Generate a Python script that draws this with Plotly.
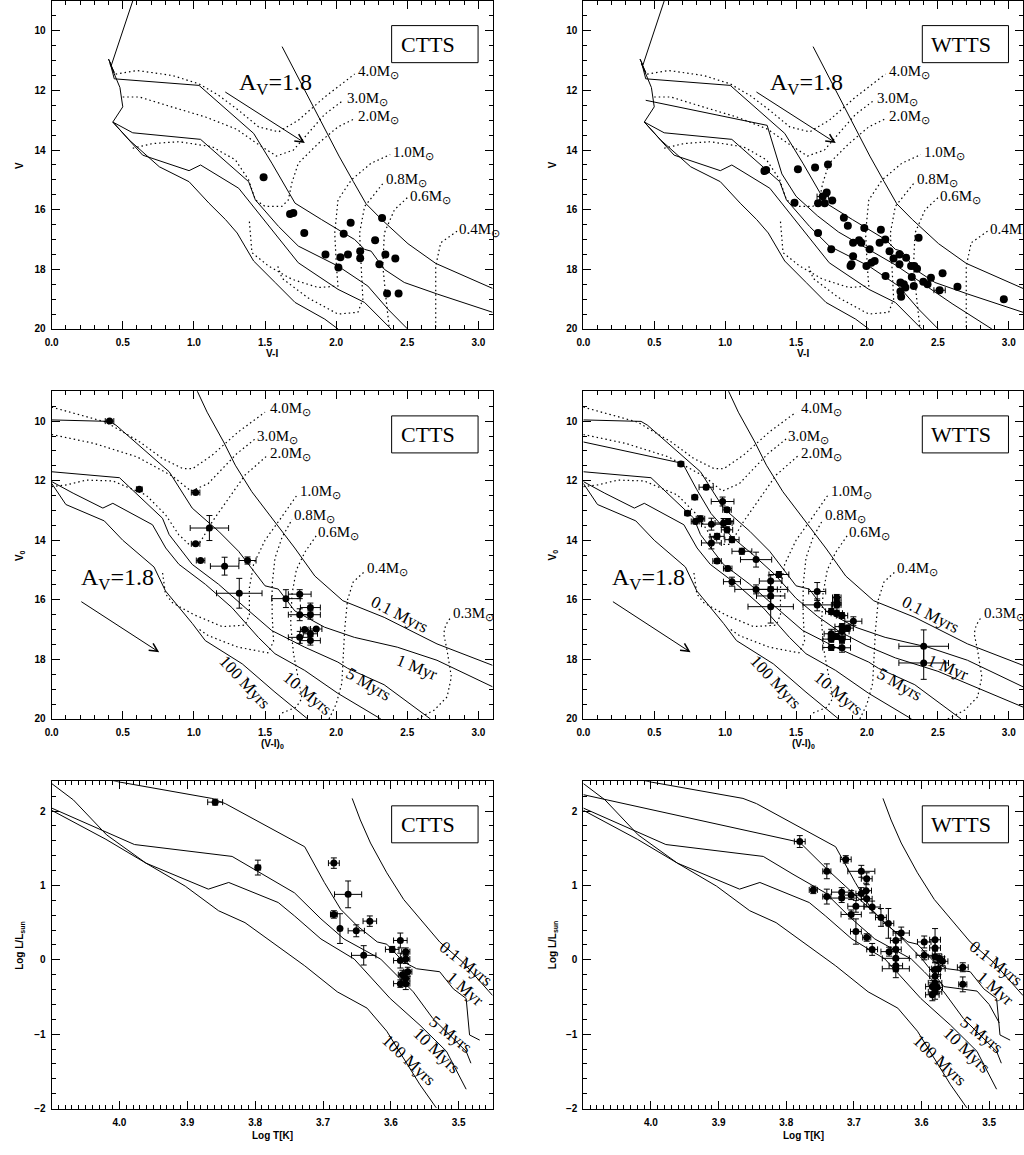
import plotly.graph_objects as go

# ===================== DATA =====================
# ---- Top row: observed V vs V-I, model isochrones (solid) ----
iso_top_hot_x = [0.57, 0.42, 0.40, 0.44, 0.41]
iso_top_hot_y = [9.0, 11.15, 10.95, 11.40, 11.10]
iso_top_01_x = [1.62, 1.83, 1.905, 2.02, 2.12, 2.21, 2.32, 2.505, 2.70, 3.10]
iso_top_01_y = [10.53, 12.47, 13.17, 14.2, 15.05, 15.8, 16.33, 17.14, 17.8, 18.64]
iso_top_1_x = [0.41, 0.44, 1.036, 1.42, 1.548, 1.711, 1.897, 2.13, 2.20, 2.246, 2.339, 2.479, 2.712, 3.10]
iso_top_1_y = [11.05, 11.61, 11.83, 13.44, 14.44, 15.78, 16.33, 17.0, 17.33, 17.39, 18.0, 18.44, 18.83, 19.44]
iso_top_5_x = [0.41, 0.48, 0.50, 0.43, 0.57, 1.047, 1.385, 1.432, 1.595, 1.734, 2.013, 2.223, 2.363, 2.502]
iso_top_5_y = [11.1, 11.9, 12.55, 13.06, 13.42, 13.64, 15.06, 15.67, 16.56, 17.22, 17.89, 18.56, 19.33, 20.0]
iso_top_10_x = [0.43, 0.64, 0.966, 1.047, 1.315, 1.455, 1.60, 1.734, 2.013, 2.20, 2.386]
iso_top_10_y = [13.06, 14.17, 14.69, 14.50, 15.28, 16.11, 17.0, 17.78, 18.67, 19.11, 20.0]
iso_top_100_x = [0.43, 0.547, 0.757, 0.966, 1.106, 1.222, 1.304, 1.42, 1.571, 1.711, 1.92, 2.013]
iso_top_100_y = [13.06, 13.67, 14.56, 15.06, 15.78, 16.33, 16.78, 17.72, 18.44, 19.11, 19.67, 20.0]
iso_top_extra_x = [0.44, 1.296, 1.40, 1.50, 1.65, 1.80, 2.0, 2.2, 2.4, 2.6, 2.88]
iso_top_extra_y = [12.33, 13.17, 14.8, 15.55, 16.2, 16.75, 17.3, 17.85, 18.5, 19.15, 20.0]

# ---- Top row: mass tracks (dotted) ----
trk_top_40_x = [0.45, 0.6, 0.85, 1.036, 1.176, 1.315, 1.455, 1.595, 1.734, 1.92, 2.13]
trk_top_40_y = [11.45, 11.33, 11.5, 11.78, 12.17, 12.67, 13.22, 13.39, 13.0, 12.22, 11.45]
trk_top_30_x = [0.5, 0.617, 0.85, 1.082, 1.30, 1.45, 1.58, 1.70, 1.80, 1.92, 2.05]
trk_top_30_y = [12.22, 12.22, 12.56, 12.89, 13.3, 13.8, 14.2, 14.0, 13.45, 12.8, 12.33]
trk_top_20_x = [0.57, 0.71, 0.896, 1.129, 1.292, 1.385, 1.432, 1.501, 1.618, 1.664, 1.688, 1.734, 1.874, 2.013, 2.13]
trk_top_20_y = [13.94, 13.78, 13.72, 13.89, 14.33, 15.0, 15.67, 15.89, 15.89, 15.67, 15.11, 14.44, 13.78, 13.22, 12.95]
trk_top_10_x = [1.39, 1.397, 1.408, 1.525, 1.688, 1.874, 2.013, 2.002, 1.99, 2.013, 2.107, 2.246, 2.38]
trk_top_10_y = [16.4, 16.78, 17.44, 17.89, 18.33, 18.61, 18.56, 17.89, 16.78, 15.67, 15.0, 14.44, 14.15]
trk_top_08_x = [1.59, 1.62, 1.8, 2.013, 2.153, 2.188, 2.176, 2.165, 2.2, 2.339]
trk_top_08_y = [17.9, 18.3, 18.95, 19.5, 19.44, 19.0, 17.89, 16.78, 15.89, 15.06]
trk_top_06_x = [2.5, 2.41, 2.339, 2.328, 2.351, 2.374]
trk_top_06_y = [15.6, 16.0, 16.78, 17.89, 19.0, 20.0]
trk_top_04_x = [2.85, 2.735, 2.7, 2.7, 2.7]
trk_top_04_y = [16.72, 17.11, 17.89, 19.0, 20.0]

# ---- Middle row: dereddened V0 vs (V-I)0 isochrones ----
iso_mid_01_x = [1.0, 1.023, 1.093, 1.209, 1.291, 1.407, 1.547, 1.709, 1.85, 2.047, 2.338, 2.709, 3.1]
iso_mid_01_y = [8.75, 9.0, 9.7, 10.7, 11.48, 12.37, 13.26, 14.26, 15.2, 16.03, 16.59, 17.48, 18.2]
iso_mid_1_x = [0, 0.407, 0.453, 0.826, 0.988, 1.174, 1.314, 1.5, 1.593, 1.709, 1.919, 2.128, 2.43, 2.709, 3.1]
iso_mid_1_y = [9.96, 10.01, 10.14, 11.7, 12.92, 13.7, 14.37, 15.53, 15.64, 16.37, 16.92, 17.26, 17.59, 18.03, 18.92]
iso_mid_5_x = [0, 0.477, 0.779, 0.826, 0.988, 1.174, 1.36, 1.547, 1.779, 2.012, 2.081, 2.337, 2.663]
iso_mid_5_y = [11.7, 11.9, 13.26, 13.81, 14.81, 15.48, 16.26, 17.03, 17.59, 18.09, 18.3, 18.85, 20.0]
iso_mid_10_x = [0, 0.151, 0.36, 0.43, 0.709, 0.802, 0.895, 1.081, 1.267, 1.453, 1.57, 1.779, 2.012, 2.314]
iso_mid_10_y = [12.03, 12.42, 12.92, 12.76, 13.48, 14.26, 14.81, 15.48, 16.26, 17.26, 17.81, 18.37, 19.14, 20.0]
iso_mid_100_x = [0, 0.1, 0.37, 0.5, 0.72, 0.8, 0.99, 1.08, 1.34, 1.57, 1.8]
iso_mid_100_y = [12.09, 12.8, 13.35, 14.0, 14.9, 15.7, 16.8, 17.37, 18.15, 19.1, 20.0]
iso_mid_extra_x = [0, 0.7, 0.8, 0.9, 1.05, 1.2, 1.35, 1.5, 1.65, 1.8, 2.0, 2.2, 2.5, 2.8, 3.1]
iso_mid_extra_y = [10.7, 11.42, 12.3, 13.1, 13.9, 14.5, 15.15, 15.95, 16.55, 17.05, 17.55, 17.95, 18.4, 19.0, 19.6]

# ---- Middle row: mass tracks (dotted) ----
trk_mid_40_x = [0, 0.38, 0.62, 0.78, 0.92, 0.99, 1.13, 1.31, 1.5]
trk_mid_40_y = [9.53, 10.03, 10.7, 11.26, 11.59, 11.6, 11.14, 10.37, 9.7]
trk_mid_30_x = [0, 0.3, 0.6, 0.85, 0.98, 1.1, 1.2, 1.3, 1.43]
trk_mid_30_y = [10.45, 10.75, 11.2, 11.85, 12.35, 12.1, 11.6, 11.1, 10.6]
trk_mid_20_x = [0, 0.105, 0.244, 0.43, 0.663, 0.8, 0.893, 0.966, 1.035, 1.13, 1.245, 1.36, 1.52]
trk_mid_20_y = [12.2, 12.14, 11.98, 12.01, 12.48, 13.14, 13.81, 14.14, 14.14, 13.37, 12.59, 11.81, 11.14]
trk_mid_10_x = [0.78, 0.80, 0.85, 1.0, 1.2, 1.36, 1.39, 1.39, 1.42, 1.5, 1.62, 1.73]
trk_mid_10_y = [15.1, 15.8, 16.1, 16.5, 16.9, 16.85, 16.5, 15.6, 14.8, 14.0, 13.2, 12.45]
trk_mid_08_x = [1.04, 1.1, 1.31, 1.52, 1.56, 1.55, 1.55, 1.57, 1.62, 1.69]
trk_mid_08_y = [17.0, 17.2, 17.59, 17.78, 17.4, 16.5, 15.5, 14.6, 13.9, 13.3]
trk_mid_06_x = [1.62, 1.72, 1.76, 1.74, 1.70, 1.68, 1.69, 1.72, 1.78, 1.86]
trk_mid_06_y = [19.8, 19.6, 19.3, 18.8, 17.8, 16.8, 15.8, 15.0, 14.4, 13.85]
trk_mid_04_x = [1.95, 2.0, 2.04, 2.05, 2.06, 2.08, 2.12, 2.2]
trk_mid_04_y = [20.0, 19.5, 18.8, 18.0, 17.0, 16.0, 15.4, 15.05]
trk_mid_03_x = [2.57, 2.69, 2.78, 2.81, 2.78, 2.756, 2.77, 2.81]
trk_mid_03_y = [20.0, 19.7, 19.26, 18.59, 17.7, 17.14, 16.85, 16.55]

# ---- Bottom row: HR diagram isochrones (log T, log L/Lsun) ----
hr_01_T = [3.657, 3.645, 3.63, 3.606, 3.581, 3.557, 3.528, 3.494, 3.45]
hr_01_L = [2.17, 1.88, 1.57, 1.17, 0.81, 0.55, 0.24, -0.03, -0.48]
hr_1_T = [4.03, 4.0, 3.864, 3.844, 3.727, 3.698, 3.674, 3.65, 3.62, 3.606, 3.581, 3.562, 3.528, 3.508, 3.489, 3.484, 3.469]
hr_1_L = [2.45, 2.39, 2.17, 2.1, 1.52, 1.04, 0.68, 0.46, 0.24, 0.21, -0.03, -0.12, -0.16, -0.39, -0.52, -1.01, -1.08]
hr_5_T = [4.1, 3.978, 3.834, 3.79, 3.742, 3.703, 3.669, 3.615, 3.596, 3.567, 3.538, 3.489, 3.482]
hr_5_L = [2.04, 1.55, 1.39, 1.15, 0.9, 0.55, 0.28, 0.01, -0.16, -0.43, -0.79, -1.23, -1.39]
hr_10_T = [4.1, 4.02, 3.961, 3.903, 3.869, 3.839, 3.766, 3.742, 3.703, 3.654, 3.601, 3.557, 3.518, 3.489]
hr_10_L = [2.01, 1.62, 1.3, 1.08, 0.95, 1.04, 0.77, 0.59, 0.28, 0.01, -0.52, -0.88, -1.23, -1.74]
hr_100_T = [4.1, 4.068, 4.019, 3.961, 3.903, 3.854, 3.815, 3.727, 3.679, 3.635, 3.606, 3.581, 3.557, 3.533]
hr_100_L = [2.37, 2.15, 1.68, 1.3, 0.99, 0.66, 0.5, -0.08, -0.43, -0.65, -0.96, -1.32, -1.68, -1.99]
hr_extra_T = [4.1, 3.78, 3.74, 3.70, 3.66, 3.63, 3.60, 3.567, 3.54, 3.518, 3.50, 3.485]
hr_extra_L = [2.22, 1.58, 1.22, 0.88, 0.55, 0.3, 0.02, -0.36, -0.39, -0.42, -0.6, -0.85]

# ---- Stars ----
ctts_top_vi = [1.49, 1.676, 1.699, 1.776, 2.053, 2.102, 1.925, 2.03, 2.083, 2.016, 2.169, 2.169, 2.274, 2.323,
               2.346, 2.304, 2.416, 2.358, 2.439]
ctts_top_v = [14.91, 16.14, 16.11, 16.78, 16.81, 16.44, 17.5, 17.59, 17.5, 17.94, 17.39, 17.63, 17.02, 16.28,
              17.5, 17.83, 17.64, 18.81, 18.81]
wtts_top_vi = [1.277, 1.289, 1.513, 1.634, 1.725, 1.489, 1.655, 1.688, 1.716, 1.702, 1.755, 1.655, 1.837, 1.865,
               1.944, 1.96, 1.981, 1.902, 2.019, 2.098, 2.089, 2.129, 1.748, 1.902, 1.891, 1.884, 1.996, 2.031,
               2.054, 2.159, 2.187, 2.229, 2.229, 2.276, 2.311, 2.334, 2.353, 2.131, 2.316, 2.364, 2.236, 2.26,
               2.271, 2.236, 2.241, 2.33, 2.397, 2.427, 2.451, 2.533, 2.512, 2.638, 2.965]
wtts_top_v = [14.7, 14.67, 14.64, 14.58, 14.48, 15.77, 15.78, 15.56, 15.42, 15.78, 15.69, 16.78, 16.27, 16.54,
              17.02, 17.11, 16.61, 17.11, 17.33, 16.67, 17.11, 17.0, 17.33, 17.56, 17.83, 17.89, 17.89, 17.78,
              17.72, 17.39, 17.64, 17.5, 17.83, 17.61, 17.89, 17.89, 17.98, 18.22, 18.26, 16.94, 18.44, 18.5,
              18.61, 18.74, 18.92, 18.56, 18.42, 18.5, 18.28, 18.13, 18.7, 18.58, 19.0]
wtts_top_vi_err = [0] * 7 + [0.04] + [0] * 42 + [0.04, 0, 0]

ctts_mid_vi = [0.407, 0.616, 1.012, 1.109, 1.012, 1.047, 1.216, 1.377, 1.319, 1.647, 1.744, 1.819, 1.744, 1.819,
               1.779, 1.860, 1.819, 1.744, 1.819]
ctts_mid_v = [10.0, 12.29, 12.40, 13.59, 14.12, 14.68, 14.87, 14.68, 15.78, 15.96, 15.81, 16.26, 16.50, 16.50,
              17.00, 16.98, 17.14, 17.26, 17.37]
ctts_mid_vi_err = [0.03, 0.02, 0.03, 0.135, 0.03, 0.03, 0.10, 0.06, 0.16, 0.10, 0.08, 0.07, 0.08, 0.07, 0.03,
                   0.04, 0.05, 0.08, 0.07]
ctts_mid_v_err = [0.05, 0.04, 0.05, 0.42, 0.05, 0.05, 0.30, 0.12, 0.50, 0.30, 0.15, 0.15, 0.20, 0.15, 0.05, 0.05,
                  0.10, 0.20, 0.15]

wtts_mid_vi = [0.688, 0.735, 0.866, 0.786, 0.982, 1.013, 0.826, 0.791, 0.903, 0.989, 1.02, 1.013, 0.943, 0.903,
               1.048, 1.118, 1.218, 0.943, 1.018, 1.048, 1.379, 1.321, 1.218, 1.321, 1.321, 1.321, 1.649, 1.649,
               1.787, 1.787, 1.787, 1.748, 1.787, 1.824, 1.904, 1.864, 1.824, 1.824, 1.748, 1.787, 1.748, 1.824,
               1.824, 1.748, 2.4, 2.4]
wtts_mid_v = [11.44, 13.09, 12.22, 12.56, 12.70, 12.98, 13.28, 13.37, 13.46, 13.42, 13.37, 13.65, 13.87, 14.09,
              13.98, 14.37, 14.65, 14.70, 14.95, 15.39, 15.15, 15.37, 15.65, 15.65, 15.87, 16.23, 15.72, 16.17,
              15.92, 16.10, 16.17, 16.39, 16.45, 16.53, 16.72, 16.95, 16.90, 17.06, 17.14, 17.23, 17.32, 17.33,
              17.61, 17.60, 17.56, 18.12]
wtts_mid_vi_err = [0.02, 0.02, 0.05, 0.02, 0.08, 0.03, 0.03, 0.03, 0.07, 0.06, 0.04, 0.04, 0.05, 0.07, 0.05, 0.07,
                   0.11, 0.03, 0.03, 0.06, 0.07, 0.08, 0.15, 0.12, 0.1, 0.16, 0.06, 0.1, 0.03, 0.03, 0.03, 0.04,
                   0.04, 0.04, 0.06, 0.04, 0.05, 0.05, 0.05, 0.06, 0.06, 0.06, 0.06, 0.06, 0.175, 0.175]
wtts_mid_v_err = [0.05, 0.05, 0.08, 0.05, 0.15, 0.08, 0.1, 0.08, 0.2, 0.15, 0.1, 0.1, 0.1, 0.2, 0.1, 0.1, 0.25,
                  0.08, 0.08, 0.15, 0.1, 0.2, 0.15, 0.3, 0.3, 0.55, 0.3, 0.2, 0.1, 0.1, 0.1, 0.1, 0.1, 0.1, 0.15,
                  0.1, 0.1, 0.15, 0.15, 0.1, 0.1, 0.1, 0.15, 0.1, 0.55, 0.55]

ctts_logT = [3.859, 3.796, 3.684, 3.663, 3.684, 3.675, 3.651, 3.631, 3.64, 3.598, 3.586, 3.586, 3.578, 3.578,
             3.575, 3.583, 3.578, 3.586, 3.578]
ctts_logL = [2.12, 1.24, 1.30, 0.88, 0.61, 0.42, 0.39, 0.52, 0.06, 0.14, 0.26, -0.01, 0.11, 0.01, -0.16, -0.2,
             -0.25, -0.32, -0.32]
ctts_logT_err = [0.011, 0.004, 0.008, 0.02, 0.005, 0.0, 0.012, 0.01, 0.018, 0.01, 0.01, 0.01, 0.006, 0.006,
                 0.006, 0.006, 0.006, 0.01, 0.006]
ctts_logL_err = [0.04, 0.1, 0.07, 0.18, 0.05, 0.2, 0.08, 0.07, 0.13, 0.04, 0.1, 0.1, 0.05, 0.06, 0.06, 0.06, 0.1,
                 0.05, 0.08]

wtts_logT = [3.78, 3.76, 3.74, 3.74, 3.712, 3.689, 3.681, 3.718, 3.718, 3.704, 3.689, 3.682, 3.681, 3.697, 3.673,
             3.704, 3.697, 3.681, 3.673, 3.66, 3.649, 3.63, 3.638, 3.638, 3.648, 3.638, 3.638, 3.638, 3.596, 3.596,
             3.58, 3.58, 3.58, 3.574, 3.569, 3.58, 3.575, 3.58, 3.58, 3.584, 3.577, 3.58, 3.584, 3.539, 3.539]
wtts_logL = [1.59, 0.94, 1.19, 0.85, 1.35, 1.19, 1.09, 0.91, 0.83, 0.87, 0.89, 0.93, 0.82, 0.72, 0.71, 0.61, 0.38,
             0.30, 0.14, 0.57, 0.49, 0.36, 0.26, 0.14, 0.11, 0.02, -0.08, -0.12, 0.24, 0.06, 0.27, 0.16, 0.04, 0.02,
             -0.02, -0.13, -0.12, -0.22, -0.31, -0.36, -0.37, -0.43, -0.47, -0.1, -0.33]
wtts_logT_err = [0.008, 0.006, 0.006, 0.006, 0.008, 0.02, 0.008, 0.015, 0.022, 0.015, 0.008, 0.008, 0.008, 0.012,
                 0.012, 0.015, 0.008, 0.006, 0.008, 0.008, 0.008, 0.012, 0.008, 0.008, 0.012, 0.02, 0.01, 0.02,
                 0.01, 0.012, 0.008, 0.008, 0.01, 0.008, 0.008, 0.008, 0.01, 0.008, 0.01, 0.01, 0.008, 0.01, 0.01,
                 0.008, 0.006]
wtts_logL_err = [0.08, 0.05, 0.1, 0.1, 0.05, 0.08, 0.08, 0.06, 0.06, 0.06, 0.08, 0.1, 0.1, 0.08, 0.08, 0.06, 0.17,
                 0.05, 0.08, 0.12, 0.2, 0.08, 0.12, 0.1, 0.06, 0.15, 0.08, 0.12, 0.08, 0.06, 0.15, 0.1, 0.08, 0.06,
                 0.06, 0.1, 0.08, 0.08, 0.08, 0.08, 0.08, 0.1, 0.08, 0.06, 0.1]

# ---- Text labels ----
panel_names = ["CTTS", "WTTS"]
mass_text = ["4.0", "3.0", "2.0", "1.0", "0.8", "0.6", "0.4", "0.3"]
mass_top_x = [2.142, 2.06, 2.142, 2.386, 2.339, 2.502, 2.851]
mass_top_y = [11.39, 12.28, 12.89, 14.09, 15.0, 15.56, 16.67]
mass_mid_x = [1.523, 1.43, 1.523, 1.733, 1.69, 1.86, 2.2, 2.81]
mass_mid_y = [9.59, 10.53, 11.09, 12.37, 13.2, 13.76, 14.98, 16.48]
age_text = ["0.1 Myrs", "1 Myr", "5 Myrs", "10 Myrs", "100 Myrs"]
age_mid_x = [2.447, 2.57, 2.23, 1.80, 1.36]
age_mid_y = [16.48, 18.26, 18.85, 19.14, 18.76]
age_mid_angle = [27, 22, 30, 40, 47]
age_hr_x = [3.49, 3.491, 3.512, 3.533, 3.573]
age_hr_y = [-0.053, -0.387, -1.01, -1.22, -1.35]
age_hr_angle = [38, 41, 38, 44, 43]
av_text = "A<sub>V</sub>=1.8"
av_top = dict(x=1.30, y=11.78, tail=(1.21, 12.02), tip=(1.78, 13.76))
av_mid = dict(x=0.19, y=15.31, tail=(0.198, 16.03), tip=(0.756, 17.76))

# ===================== FIGURE =====================
fig = go.Figure()
BLACK = "black"
SERIF = "Liberation Serif, Times New Roman, serif"
SANS = "Liberation Sans, Arial, sans-serif"


def ids(p):
    return ("x" if p == 1 else f"x{p}", "y" if p == 1 else f"y{p}")


def line(p, xs, ys, dotted=False):
    xa, ya = ids(p)
    fig.add_trace(go.Scatter(
        x=xs, y=ys, xaxis=xa, yaxis=ya, mode="lines",
        line=dict(color=BLACK, width=1.2 if dotted else 1, dash="1.5px,3px" if dotted else "solid"),
        hoverinfo="skip", showlegend=False))


def stars(p, xs, ys, xe=None, ye=None, size=7):
    xa, ya = ids(p)
    def err(a):
        if a is None:
            return dict(visible=False)
        return dict(type="data", array=a, visible=True, color=BLACK, thickness=1, width=3)
    fig.add_trace(go.Scatter(
        x=xs, y=ys, xaxis=xa, yaxis=ya, mode="markers",
        marker=dict(color=BLACK, size=size, line=dict(width=0)),
        error_x=err(xe), error_y=err(ye), hoverinfo="skip", showlegend=False))


# Top row (panels 1, 2)
for p in (1, 2):
    for xs, ys in [(trk_top_40_x, trk_top_40_y), (trk_top_30_x, trk_top_30_y), (trk_top_20_x, trk_top_20_y),
                   (trk_top_10_x, trk_top_10_y), (trk_top_08_x, trk_top_08_y), (trk_top_06_x, trk_top_06_y),
                   (trk_top_04_x, trk_top_04_y)]:
        line(p, xs, ys, dotted=True)
    for xs, ys in [(iso_top_hot_x, iso_top_hot_y), (iso_top_01_x, iso_top_01_y), (iso_top_1_x, iso_top_1_y),
                   (iso_top_5_x, iso_top_5_y), (iso_top_10_x, iso_top_10_y), (iso_top_100_x, iso_top_100_y)]:
        line(p, xs, ys)
line(2, iso_top_extra_x, iso_top_extra_y)
stars(1, ctts_top_vi, ctts_top_v, size=8)
stars(2, wtts_top_vi, wtts_top_v, xe=wtts_top_vi_err, size=8)

# Middle row (panels 3, 4)
for p in (3, 4):
    for xs, ys in [(trk_mid_40_x, trk_mid_40_y), (trk_mid_30_x, trk_mid_30_y), (trk_mid_20_x, trk_mid_20_y),
                   (trk_mid_10_x, trk_mid_10_y), (trk_mid_08_x, trk_mid_08_y), (trk_mid_06_x, trk_mid_06_y),
                   (trk_mid_04_x, trk_mid_04_y), (trk_mid_03_x, trk_mid_03_y)]:
        line(p, xs, ys, dotted=True)
    for xs, ys in [(iso_mid_01_x, iso_mid_01_y), (iso_mid_1_x, iso_mid_1_y), (iso_mid_5_x, iso_mid_5_y),
                   (iso_mid_10_x, iso_mid_10_y), (iso_mid_100_x, iso_mid_100_y)]:
        line(p, xs, ys)
line(4, iso_mid_extra_x, iso_mid_extra_y)
stars(3, ctts_mid_vi, ctts_mid_v, ctts_mid_vi_err, ctts_mid_v_err)
stars(4, wtts_mid_vi, wtts_mid_v, wtts_mid_vi_err, wtts_mid_v_err)

# Bottom row (panels 5, 6)
for p in (5, 6):
    for xs, ys in [(hr_01_T, hr_01_L), (hr_1_T, hr_1_L), (hr_5_T, hr_5_L), (hr_10_T, hr_10_L),
                   (hr_100_T, hr_100_L)]:
        line(p, xs, ys)
line(6, hr_extra_T, hr_extra_L)
stars(5, ctts_logT, ctts_logL, ctts_logT_err, ctts_logL_err)
stars(6, wtts_logT, wtts_logL, wtts_logT_err, wtts_logL_err)

# ---------------- axes ----------------
X_DOM = {0: [0.0439, 0.4775], 1: [0.5667, 0.9990]}
Y_DOM = {0: [0.7143, 1.0], 1: [0.3746, 0.6600], 2: [0.0352, 0.3203]}
TICKFONT = dict(family=SANS, size=10, color=BLACK, weight="bold")
base = dict(showline=True, linecolor=BLACK, linewidth=1, mirror="allticks", ticks="inside", ticklen=8,
            tickwidth=1, tickcolor=BLACK, showgrid=False, zeroline=False, tickfont=TICKFONT)
layout_axes = {}
for p in range(1, 7):
    row, col = (p - 1) // 2, (p - 1) % 2
    xa, ya = ids(p)
    xkey = "xaxis" if p == 1 else f"xaxis{p}"
    ykey = "yaxis" if p == 1 else f"yaxis{p}"
    if row < 2:
        xcfg = dict(range=[0, 3.1], tickmode="linear", tick0=0, dtick=0.5, tickformat=".1f",
                    minor=dict(ticks="inside", ticklen=4, tickcolor=BLACK, dtick=0.1, tick0=0, showgrid=False))
        ycfg = dict(range=[20, 9], tickmode="linear", tick0=10, dtick=2,
                    minor=dict(ticks="inside", ticklen=4, tickcolor=BLACK, dtick=0.5, tick0=9, showgrid=False))
    else:
        xcfg = dict(range=[4.1, 3.45], tickmode="array", tickvals=[4.0, 3.9, 3.8, 3.7, 3.6, 3.5],
                    ticktext=["4.0", "3.9", "3.8", "3.7", "3.6", "3.5"],
                    minor=dict(ticks="inside", ticklen=4, tickcolor=BLACK, dtick=0.01, tick0=3.45,
                               showgrid=False))
        ycfg = dict(range=[-2, 2.4], tickmode="linear", tick0=0, dtick=1,
                    minor=dict(ticks="inside", ticklen=4, tickcolor=BLACK, dtick=0.2, tick0=0, showgrid=False))
    layout_axes[xkey] = dict(base, domain=X_DOM[col], anchor=ya, ticklabelstandoff=4, **xcfg)
    layout_axes[ykey] = dict(base, domain=Y_DOM[row], anchor=xa, ticklabelstandoff=3, **ycfg)

fig.update_layout(width=1024, height=1155, margin=dict(l=0, r=0, t=0, b=0), autosize=False,
                  paper_bgcolor="white", plot_bgcolor="white", showlegend=False, **layout_axes)

# ---------------- annotations ----------------
ann = []
shapes = []
for p in range(1, 7):
    row, col = (p - 1) // 2, (p - 1) % 2
    xa, ya = ids(p)
    # CTTS / WTTS box
    shapes.append(dict(type="rect", xref=f"{xa} domain", yref=f"{ya} domain", x0=0.771, x1=0.967,
                       y0=0.812, y1=0.925, line=dict(color=BLACK, width=1), fillcolor="white", layer="above"))
    ann.append(dict(text=panel_names[col], xref=f"{xa} domain", yref=f"{ya} domain", x=0.787, y=0.868,
                    xanchor="left", yanchor="middle", showarrow=False,
                    font=dict(family=SERIF, size=22, color=BLACK)))
    if row == 0:
        for t, mx, my in zip(mass_text, mass_top_x, mass_top_y):
            ann.append(dict(text=t + "M<sub>⊙</sub>", x=mx, y=my, xref=xa, yref=ya, xanchor="left",
                            yanchor="middle", showarrow=False, font=dict(family=SERIF, size=15, color=BLACK)))
        av = av_top
    elif row == 1:
        for t, mx, my in zip(mass_text, mass_mid_x, mass_mid_y):
            ann.append(dict(text=t + "M<sub>⊙</sub>", x=mx, y=my, xref=xa, yref=ya, xanchor="left",
                            yanchor="middle", showarrow=False, font=dict(family=SERIF, size=15, color=BLACK)))
        for t, lx, ly, ang in zip(age_text, age_mid_x, age_mid_y, age_mid_angle):
            ann.append(dict(text=t, x=lx, y=ly, xref=xa, yref=ya, textangle=ang, showarrow=False,
                            font=dict(family=SERIF, size=17, color=BLACK)))
        av = av_mid
    else:
        for t, lx, ly, ang in zip(age_text, age_hr_x, age_hr_y, age_hr_angle):
            ann.append(dict(text=t, x=lx, y=ly, xref=xa, yref=ya, textangle=ang, showarrow=False,
                            font=dict(family=SERIF, size=17, color=BLACK)))
        av = None
    if av is not None:
        ann.append(dict(text=av_text, x=av["x"], y=av["y"], xref=xa, yref=ya, xanchor="left", yanchor="middle",
                        showarrow=False, font=dict(family=SERIF, size=24, color=BLACK)))
        ann.append(dict(text="", x=av["tip"][0], y=av["tip"][1], ax=av["tail"][0], ay=av["tail"][1],
                        xref=xa, yref=ya, axref=xa, ayref=ya, showarrow=True, arrowhead=5, arrowsize=1.6,
                        arrowwidth=1, arrowcolor=BLACK))

# axis titles
TITLEFONT = dict(family=SANS, size=10, color=BLACK, weight="bold")
x_titles = ["V-I", "(V-I)<sub>0</sub>", "Log T[K]"]
y_titles = ["V", "V<sub>0</sub>", "Log L/L<sub>sun</sub>"]
x_title_y = [1 - 355 / 1155, 1 - 748 / 1155, 1 - 1141 / 1155]
for row in range(3):
    for col in range(2):
        xc = sum(X_DOM[col]) / 2
        yc = sum(Y_DOM[row]) / 2
        ann.append(dict(text=x_titles[row], xref="paper", yref="paper", x=xc, y=x_title_y[row],
                        xanchor="center", yanchor="middle", showarrow=False, font=TITLEFONT))
        ann.append(dict(text=y_titles[row], xref="paper", yref="paper",
                        x=(13 if col == 0 else 550) / 1024, y=yc, xanchor="center", yanchor="middle",
                        textangle=-90, showarrow=False, font=TITLEFONT))

fig.update_layout(annotations=ann, shapes=shapes)
fig.write_html("out.html", config={"displayModeBar": False})
